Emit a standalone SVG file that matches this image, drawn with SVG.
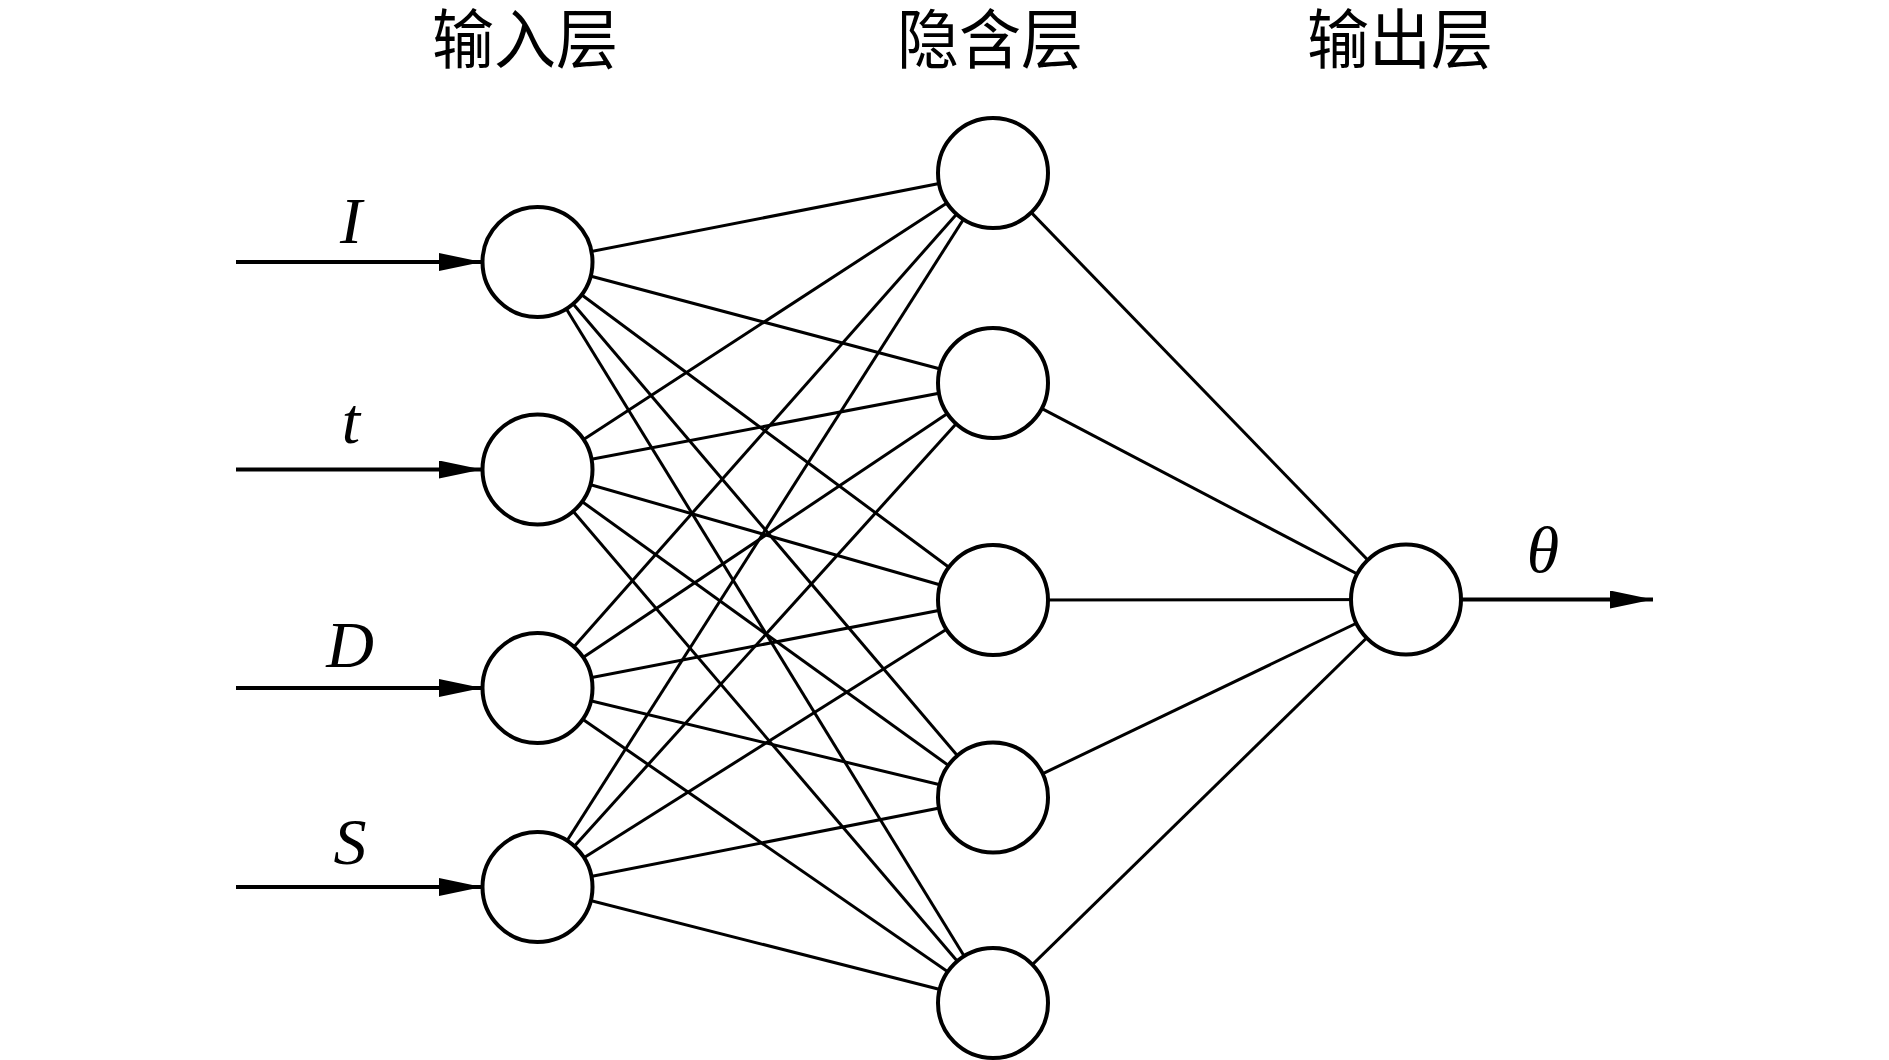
<svg xmlns="http://www.w3.org/2000/svg" width="1889" height="1060" viewBox="0 0 1889 1060">
<style>
.edge{stroke:#000;stroke-width:3;fill:none}
.arrow{stroke:#000;stroke-width:4;fill:none}
.node{fill:#fff;stroke:#000;stroke-width:4}
.title{font-family:"Noto Sans CJK SC",sans-serif;font-size:62px;text-anchor:middle;fill:#000}
.var{font-family:"Liberation Serif","Times New Roman",serif;font-style:italic;font-size:66px;text-anchor:middle;fill:#000}
</style>
<defs>
<marker id="ah" markerUnits="userSpaceOnUse" markerWidth="44" markerHeight="20" refX="43" refY="9" orient="auto">
<path d="M0,0 L43,9 L0,18 Z" fill="#000"/>
</marker>
</defs>
<g id="titles">
<text class="title" transform="translate(525,63) scale(1,1.05)">输入层</text>
<text class="title" transform="translate(990,63) scale(1,1.05)">隐含层</text>
<text class="title" transform="translate(1400,63) scale(1,1.05)">输出层</text>
</g>
<g id="connectors">
<line class="edge" x1="537.5" y1="262" x2="993" y2="173"/>
<line class="edge" x1="537.5" y1="262" x2="993" y2="383"/>
<line class="edge" x1="537.5" y1="262" x2="993" y2="600"/>
<line class="edge" x1="537.5" y1="262" x2="993" y2="797.5"/>
<line class="edge" x1="537.5" y1="262" x2="993" y2="1003"/>
<line class="edge" x1="537.5" y1="469.5" x2="993" y2="173"/>
<line class="edge" x1="537.5" y1="469.5" x2="993" y2="383"/>
<line class="edge" x1="537.5" y1="469.5" x2="993" y2="600"/>
<line class="edge" x1="537.5" y1="469.5" x2="993" y2="797.5"/>
<line class="edge" x1="537.5" y1="469.5" x2="993" y2="1003"/>
<line class="edge" x1="537.5" y1="688" x2="993" y2="173"/>
<line class="edge" x1="537.5" y1="688" x2="993" y2="383"/>
<line class="edge" x1="537.5" y1="688" x2="993" y2="600"/>
<line class="edge" x1="537.5" y1="688" x2="993" y2="797.5"/>
<line class="edge" x1="537.5" y1="688" x2="993" y2="1003"/>
<line class="edge" x1="537.5" y1="887" x2="993" y2="173"/>
<line class="edge" x1="537.5" y1="887" x2="993" y2="383"/>
<line class="edge" x1="537.5" y1="887" x2="993" y2="600"/>
<line class="edge" x1="537.5" y1="887" x2="993" y2="797.5"/>
<line class="edge" x1="537.5" y1="887" x2="993" y2="1003"/>
<line class="edge" x1="993" y1="173" x2="1406" y2="599.5"/>
<line class="edge" x1="993" y1="383" x2="1406" y2="599.5"/>
<line class="edge" x1="993" y1="600" x2="1406" y2="599.5"/>
<line class="edge" x1="993" y1="797.5" x2="1406" y2="599.5"/>
<line class="edge" x1="993" y1="1003" x2="1406" y2="599.5"/>
<line class="arrow" x1="236" y1="262" x2="482" y2="262" marker-end="url(#ah)"/>
<line class="arrow" x1="236" y1="469.5" x2="482" y2="469.5" marker-end="url(#ah)"/>
<line class="arrow" x1="236" y1="688" x2="482" y2="688" marker-end="url(#ah)"/>
<line class="arrow" x1="236" y1="887" x2="482" y2="887" marker-end="url(#ah)"/>
<line class="arrow" x1="1461" y1="599.5" x2="1653" y2="599.5" marker-end="url(#ah)"/>
</g>
<g id="in-I"><circle class="node" cx="537.5" cy="262" r="55"/><text class="var" x="351" y="243">I</text></g>
<g id="in-t"><circle class="node" cx="537.5" cy="469.5" r="55"/><text class="var" x="351" y="443">t</text></g>
<g id="in-D"><circle class="node" cx="537.5" cy="688" r="55"/><text class="var" x="350" y="667">D</text></g>
<g id="in-S"><circle class="node" cx="537.5" cy="887" r="55"/><text class="var" x="350" y="864">S</text></g>
<g id="h1"><circle class="node" cx="993" cy="173" r="55"/></g>
<g id="h2"><circle class="node" cx="993" cy="383" r="55"/></g>
<g id="h3"><circle class="node" cx="993" cy="600" r="55"/></g>
<g id="h4"><circle class="node" cx="993" cy="797.5" r="55"/></g>
<g id="h5"><circle class="node" cx="993" cy="1003" r="55"/></g>
<g id="out"><circle class="node" cx="1406" cy="599.5" r="55"/><text class="var" x="1543" y="572">θ</text></g>
</svg>
